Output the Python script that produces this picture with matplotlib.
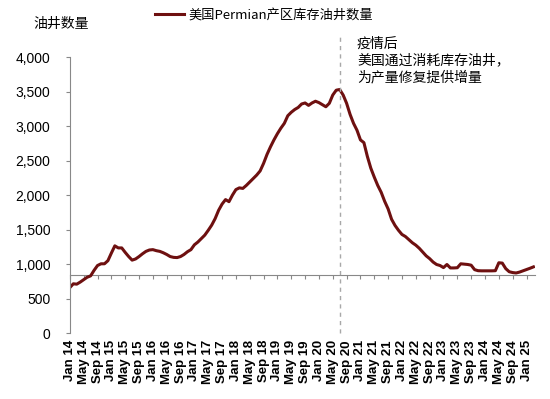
import numpy as np
import pandas as pd
import matplotlib
matplotlib.use("Agg")
import matplotlib.pyplot as plt
from matplotlib.ticker import FuncFormatter

# monthly DUC wells, Permian, Jan 2014 - Mar 2025
start_month = "2014-01"
duc_wells = [
    660, 715, 710, 740, 775, 810, 830, 910, 980, 1005, 1005, 1050,
    1160, 1265, 1235, 1235, 1170, 1110, 1058, 1075, 1110, 1150, 1185, 1205,
    1210, 1195, 1185, 1165, 1140, 1110, 1098, 1095, 1110, 1140, 1180, 1210,
    1280, 1320, 1370, 1420, 1490, 1565, 1660, 1780, 1870, 1935, 1905, 2000,
    2080, 2105, 2097, 2140, 2190, 2240, 2290, 2350, 2460, 2590, 2700, 2800,
    2890, 2970, 3040, 3150, 3200, 3240, 3270, 3320, 3335, 3300, 3335, 3360,
    3340, 3310, 3280, 3330, 3450, 3520, 3530, 3450, 3330, 3170, 3040, 2940,
    2800, 2760, 2560, 2390, 2260, 2140, 2040, 1910, 1800, 1650, 1560, 1490,
    1430, 1400, 1355, 1310, 1275, 1230, 1175, 1120, 1080, 1030, 995, 980,
    950, 995, 945, 945, 948, 1005, 1000, 995, 985, 920, 905, 903,
    903, 903, 903, 905, 1020, 1015, 935, 890, 878, 872, 885, 903,
    920, 940, 960,
]
series_name = "美国Permian产区库存油井数量"
y_label = "油井数量"
note = "疫情后\n美国通过消耗库存油井，\n为产量修复提供增量"
event_month = "2020-07"
axis_cross = 840

months = pd.period_range(start_month, periods=len(duc_wells), freq="M")
x = np.arange(len(duc_wells))
tick_pos = x[::4]
tick_labels = [m.strftime("%b %y") for m in months[::4]]
event_idx = list(months.strftime("%Y-%m")).index(event_month)

plt.rcParams["font.family"] = ["Noto Sans CJK SC", "DejaVu Sans"]

fig = plt.figure(figsize=(5.5, 3.99), dpi=100)
ax = fig.add_axes([0.127, 0.165, 0.846, 0.692])

ax.plot(x, duc_wells, color="#6e1010", lw=2.2, label=series_name)
ax.axvline(event_idx, ymin=0, ymax=1.08, clip_on=False, color="#a8a8a8",
           lw=1.0, ls=(0, (3, 3)))

ax.set_ylim(0, 4000)
ax.set_xlim(0, len(duc_wells) - 0.5)
ax.set_yticks(np.arange(0, 4001, 500))
ax.yaxis.set_major_formatter(FuncFormatter(lambda v, p: f"{v:,.0f}"))
for lab in ax.get_yticklabels():
    lab.set_family(["Liberation Sans"])
ax.tick_params(axis="y", direction="out", length=3, color="#888888",
               labelsize=10, pad=11)

ax.set_xticks(tick_pos)
ax.set_xticklabels(tick_labels, rotation=90, family=["Liberation Sans"],
                   fontsize=9.5, fontweight="bold")
ax.tick_params(axis="x", length=0, pad=5)

for s in ["top", "right", "bottom"]:
    ax.spines[s].set_visible(False)
ax.spines["left"].set_color("#888888")

# the category axis crosses the value axis above zero
sec = ax.secondary_xaxis(axis_cross / 4000)
sec.set_xticks(tick_pos)
sec.set_xticklabels([])
sec.tick_params(direction="out", length=3, color="#888888")
sec.spines["bottom"].set_color("#888888")

ax.text(event_idx + 5, 3950, note, fontsize=10, style="italic",
        va="center", ha="left", linespacing=1.25)

fig.text(0.06, 0.94, y_label, fontsize=10, va="center", ha="left")
ax.legend(loc="center", bbox_to_anchor=(0.48, 0.962),
          bbox_transform=fig.transFigure, frameon=False, fontsize=9.5,
          handlelength=2.2, handletextpad=0.4)

fig.savefig("out.png", dpi=100)
